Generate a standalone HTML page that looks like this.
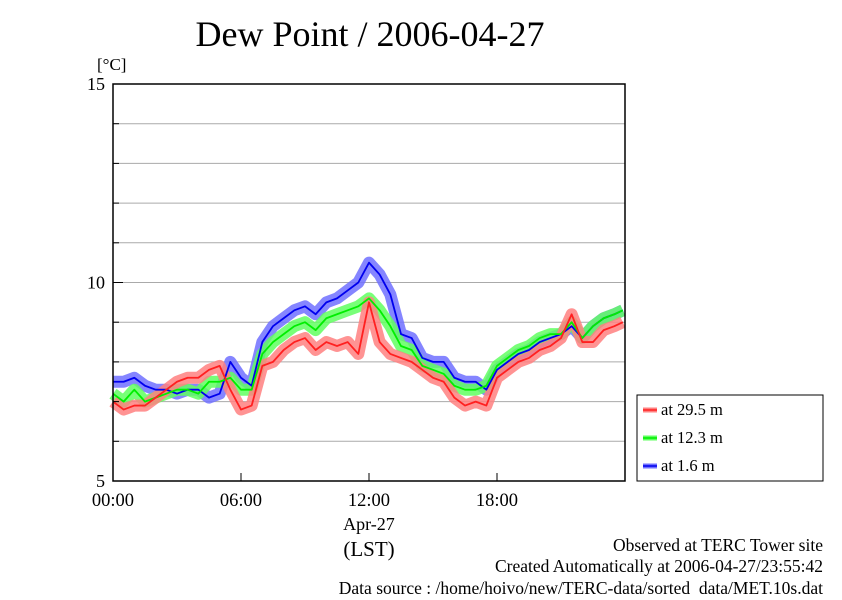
<!DOCTYPE html>
<html><head><meta charset="utf-8"><style>
body{margin:0;background:#fff}
svg text{font-family:"Liberation Serif",serif;fill:#000}
</style></head><body>
<svg width="842" height="595" viewBox="0 0 842 595" xmlns="http://www.w3.org/2000/svg">
<text x="370" y="46" font-size="36" text-anchor="middle">Dew Point / 2006-04-27</text>
<text x="97" y="70" font-size="17">[°C]</text>
<g id="grid"></g>
<g id="series"></g>
<rect x="113" y="84" width="512" height="397" fill="none" stroke="#000" stroke-width="1.5"/>
<g id="axes"></g>
<text x="369" y="530" font-size="18" text-anchor="middle">Apr-27</text>
<text x="369" y="556" font-size="21" text-anchor="middle">(LST)</text>
<g>
<rect x="637" y="395" width="186" height="86" fill="#fff" stroke="#000" stroke-width="1"/>
<g id="legend"></g>
</g>
<text x="823" y="551" font-size="17.5" text-anchor="end">Observed at TERC Tower site</text>
<text x="823" y="572" font-size="17.5" text-anchor="end">Created Automatically at 2006-04-27/23:55:42</text>
<text x="823" y="594" font-size="17.5" text-anchor="end">Data source : /home/hoivo/new/TERC-data/sorted_data/MET.10s.dat</text>
</svg>
<script>
const times=[0,0.5,1,1.5,2,2.5,3,3.5,4,4.5,5,5.5,6,6.5,7,7.5,8,8.5,9,9.5,10,10.5,11,11.5,12,12.5,13,13.5,14,14.5,15,15.5,16,16.5,17,17.5,18,18.5,19,19.5,20,20.5,21,21.5,22,22.5,23,23.5,23.9];
const blue=[7.5,7.5,7.6,7.4,7.3,7.3,7.2,7.3,7.3,7.1,7.2,8.0,7.6,7.4,8.5,8.9,9.1,9.3,9.4,9.2,9.5,9.6,9.8,10.0,10.5,10.2,9.7,8.7,8.6,8.1,8.0,8.0,7.6,7.5,7.5,7.3,7.8,8.0,8.2,8.3,8.5,8.6,8.7,8.9,8.6,8.9,9.1,9.2,9.3];
const green=[7.2,7.0,7.3,7.0,7.1,7.2,7.3,7.3,7.2,7.5,7.5,7.6,7.3,7.3,8.2,8.5,8.7,8.9,9.0,8.8,9.1,9.2,9.3,9.4,9.6,9.3,8.9,8.4,8.3,7.9,7.8,7.7,7.4,7.3,7.3,7.4,7.9,8.1,8.3,8.4,8.6,8.7,8.7,9.0,8.6,8.9,9.1,9.2,9.3];
const red=[7.0,6.8,6.9,6.9,7.1,7.3,7.5,7.6,7.6,7.8,7.9,7.3,6.8,6.9,7.9,8.0,8.3,8.5,8.6,8.3,8.5,8.4,8.5,8.2,9.5,8.5,8.2,8.1,8.0,7.8,7.6,7.5,7.1,6.9,7.0,6.9,7.6,7.8,8.0,8.1,8.3,8.4,8.6,9.2,8.5,8.5,8.8,8.9,9.0];
const yTicks=[5,10,15];
const xTicks=[0,6,12,18];
const xTickLabels=["00:00","06:00","12:00","18:00"];
const legendLabels=["at 29.5 m","at 12.3 m","at 1.6 m"];
const NS="http://www.w3.org/2000/svg";
const X=h=>113+h*512/24, Y=v=>481-(v-5)*397/10;
function mk(t,a,p){const e=document.createElementNS(NS,t);for(const k in a)e.setAttribute(k,a[k]);p.appendChild(e);return e;}
const grid=document.getElementById('grid'),axes=document.getElementById('axes'),ser=document.getElementById('series'),leg=document.getElementById('legend');
for(let v=6;v<15;v++){const l=mk('line',{x1:113,x2:625,y1:Y(v),y2:Y(v),stroke:'#aaa','stroke-width':1},grid);


const a=mk('line',{x1:113,x2:119,y1:Y(v),y2:Y(v),stroke:'#000'},axes);

}
yTicks.forEach(v=>{const t=mk('text',{x:105,y:Y(v)+6,'font-size':18,'text-anchor':'end'},axes);t.textContent=v;


mk('line',{x1:113,x2:123,y1:Y(v),y2:Y(v),stroke:'#000'},axes);});
xTicks.forEach((h,i)=>{const t=mk('text',{x:X(h),y:506,'font-size':18.5,'text-anchor':'middle'},axes);t.textContent=xTickLabels[i];


mk('line',{x1:X(h),x2:X(h),y1:481,y2:473,stroke:'#000'},axes);});
const series=[[red,'#ff2020','#ff8080','line-29-5m'],[green,'#00ee00','#60ff60','line-12-3m'],[blue,'#0000ee','#7070ff','line-1-6m']];
[series[2],series[1],series[0]].forEach(([d,c,lc,n])=>{
const pts=d.map((v,i)=>X(times[i])+','+Y(v)).join(' ');
const b=mk('polyline',{points:pts,fill:'none',stroke:lc,'stroke-width':12,'stroke-linejoin':'round','opacity':0.85},ser);

});
[series[2],series[1],series[0]].forEach(([d,c,lc,n])=>{
const pts=d.map((v,i)=>X(times[i])+','+Y(v)).join(' ');
const l=mk('polyline',{points:pts,fill:'none',stroke:c,'stroke-width':1.8,'stroke-linejoin':'round'},ser);

});
series.forEach(([d,c,lc,n],i)=>{const y=410+i*28;
mk('line',{x1:643,x2:657,y1:y,y2:y,stroke:lc,'stroke-width':5},leg);
mk('line',{x1:643,x2:657,y1:y,y2:y,stroke:c,'stroke-width':1.5},leg);
const t=mk('text',{x:661,y:y+5,'font-size':16.5},leg);t.textContent=legendLabels[i];

});
</script>
</body></html>
